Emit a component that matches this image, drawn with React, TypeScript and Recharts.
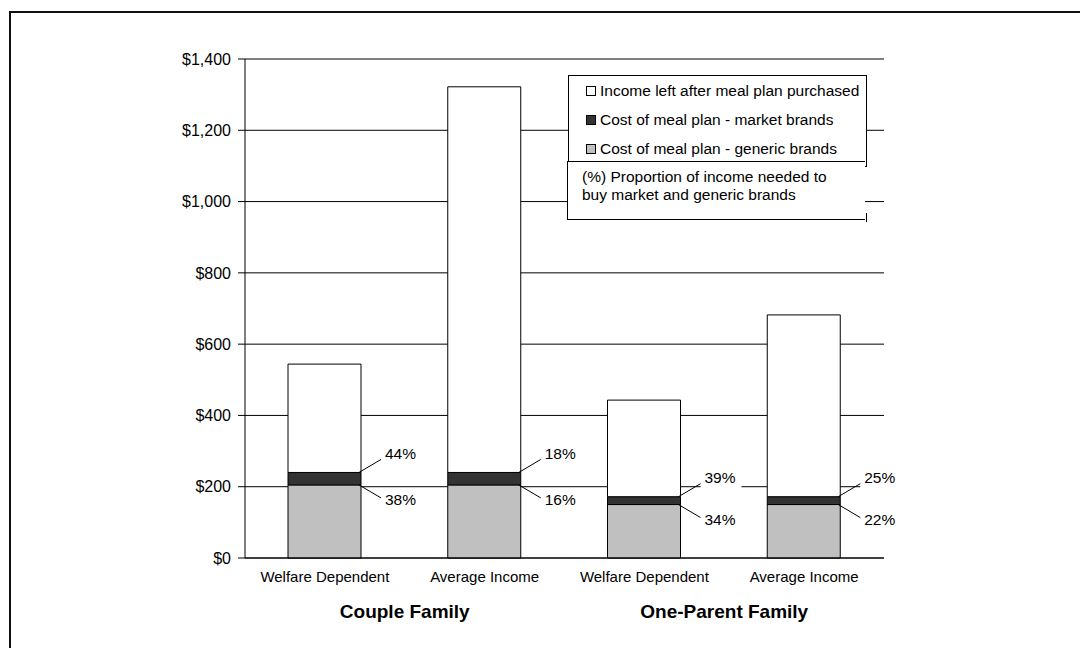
import { BarChart, Bar, XAxis, YAxis, CartesianGrid, LabelList } from "recharts";

const categories = ["Welfare Dependent", "Average Income", "Welfare Dependent", "Average Income"];
const groups = ["Couple Family", "One-Parent Family"];
const genericCost = [205, 205, 150, 150];
const marketExtra = [35, 35, 22, 22];
const incomeLeft = [304, 1082, 271, 510];
const marketPct = [44, 18, 39, 25];
const genericPct = [38, 16, 34, 22];
const yTicks = [0, 200, 400, 600, 800, 1000, 1200, 1400];

const legendItems = [
  { name: "Income left after meal plan purchased", color: "#ffffff" },
  { name: "Cost of meal plan - market brands", color: "#333333" },
  { name: "Cost of meal plan - generic brands", color: "#c0c0c0" },
];

const data = categories.map((c, i) => ({
  id: i,
  name: c,
  generic: genericCost[i],
  market: marketExtra[i],
  left: incomeLeft[i],
}));

const FONT = "'Liberation Sans', Arial, sans-serif";

// percentage label with a short leader line off the top-right corner of a segment
const pctLabel = (pcts: number[], dir: "up" | "down") => (props: any) => {
  const { x, y, width, index } = props;
  const cx = Number(x) + Number(width);
  const cy = Number(y);
  const sign = dir === "up" ? -1 : 1;
  const tx = cx + 24;
  const ty = dir === "up" ? cy - 19 : cy + 15;
  return (
    <g>
      <rect x={tx - 4} y={ty - 11} width={41} height={23} fill="#fff" />
      <line x1={cx - 2} y1={cy} x2={cx + 20} y2={cy + sign * 13} stroke="#000" strokeWidth={1} />
      <text x={tx} y={ty} dominantBaseline="central" fontSize={15.5} fill="#000" fontFamily={FONT}>
        {pcts[index]}%
      </text>
    </g>
  );
};

export default function App() {
  return (
    <div
      style={{
        position: "absolute",
        left: 0,
        top: 0,
        width: 1080,
        height: 648,
        background: "#fff",
        overflow: "hidden",
        fontFamily: FONT,
        color: "#000",
      }}
    >
      <div
        style={{
          position: "absolute",
          left: 9,
          top: 11,
          width: 1100,
          height: 700,
          borderTop: "2px solid #111",
          borderLeft: "2px solid #111",
        }}
      />
      <div style={{ position: "absolute", left: 0, top: 0 }}>
        <BarChart
          width={1080}
          height={648}
          data={data}
          margin={{ top: 59, right: 196, left: 185, bottom: 24 }}
          barSize={73}
          style={{ fontFamily: FONT }}
        >
          <CartesianGrid vertical={false} stroke="#000" strokeWidth={1} />
          <XAxis
            xAxisId="edges"
            type="number"
            dataKey="id"
            domain={[0, 4]}
            ticks={[0, 1, 2, 3, 4]}
            height={0}
            axisLine={false}
            tickLine={{ stroke: "#000" }}
            tickSize={6}
            tickFormatter={() => ""}
          />
          <XAxis
            dataKey="id"
            type="category"
            height={36}
            axisLine={{ stroke: "#000" }}
            tickLine={false}
            tickSize={6}
            tickMargin={7}
            tickFormatter={(i: number) => categories[i]}
            tick={{ fontSize: 15, fill: "#000" }}
            interval={0}
          />
          <XAxis
            xAxisId="groups"
            type="number"
            dataKey="id"
            domain={[0, 4]}
            ticks={[1, 3]}
            height={30}
            axisLine={false}
            tickLine={false}
            tickSize={0}
            tickMargin={11}
            tickFormatter={(v: number) => groups[(v - 1) / 2]}
            tick={{ fontSize: 19, fontWeight: "bold", fill: "#000" }}
          />
          <YAxis
            width={60}
            domain={[0, 1400]}
            ticks={yTicks}
            axisLine={{ stroke: "#000" }}
            tickLine={{ stroke: "#000" }}
            tickSize={7}
            tickMargin={7}
            tickFormatter={(v: number) => "$" + v.toLocaleString("en-US")}
            tick={{ fontSize: 16, fill: "#000" }}
          />
          <YAxis
            yAxisId="right"
            orientation="right"
            width={0}
            tick={false}
            tickLine={false}
            axisLine={{ stroke: "#a0a0a0" }}
          />
          <Bar dataKey="generic" stackId="a" fill="#c0c0c0" stroke="#000" strokeWidth={1} isAnimationActive={false}>
            <LabelList dataKey="generic" content={pctLabel(genericPct, "down")} />
          </Bar>
          <Bar dataKey="market" stackId="a" fill="#333333" stroke="#000" strokeWidth={1} isAnimationActive={false}>
            <LabelList dataKey="market" content={pctLabel(marketPct, "up")} />
          </Bar>
          <Bar dataKey="left" stackId="a" fill="#ffffff" stroke="#000" strokeWidth={1} isAnimationActive={false} />
        </BarChart>
      </div>

      <div
        style={{
          position: "absolute",
          left: 568,
          top: 75,
          width: 297,
          height: 90,
          border: "1px solid #000",
          background: "#fff",
        }}
      >
        {legendItems.map((item, i) => (
          <div
            key={item.name}
            style={{
              position: "absolute",
              left: 17,
              top: 4 + i * 29,
              height: 22,
              display: "flex",
              alignItems: "center",
              fontSize: 15.5,
              whiteSpace: "nowrap",
            }}
          >
            <span
              style={{
                display: "inline-block",
                width: 8,
                height: 8,
                border: "1px solid #000",
                background: item.color,
                marginRight: 4,
              }}
            />
            {item.name}
          </div>
        ))}
      </div>
      <div
        style={{
          position: "absolute",
          left: 567,
          top: 161,
          width: 298,
          height: 59,
          borderTop: "1px solid #000",
          borderLeft: "1px solid #000",
          borderBottom: "1px solid #000",
          background: "#fff",
          fontSize: 15.5,
          lineHeight: "18px",
          padding: "6px 0 0 14px",
          boxSizing: "border-box",
        }}
      >
        (%) Proportion of income needed to
        <br />
        buy market and generic brands
      </div>
      <div style={{ position: "absolute", left: 866, top: 213, width: 1, height: 9, background: "#000" }} />
    </div>
  );
}
